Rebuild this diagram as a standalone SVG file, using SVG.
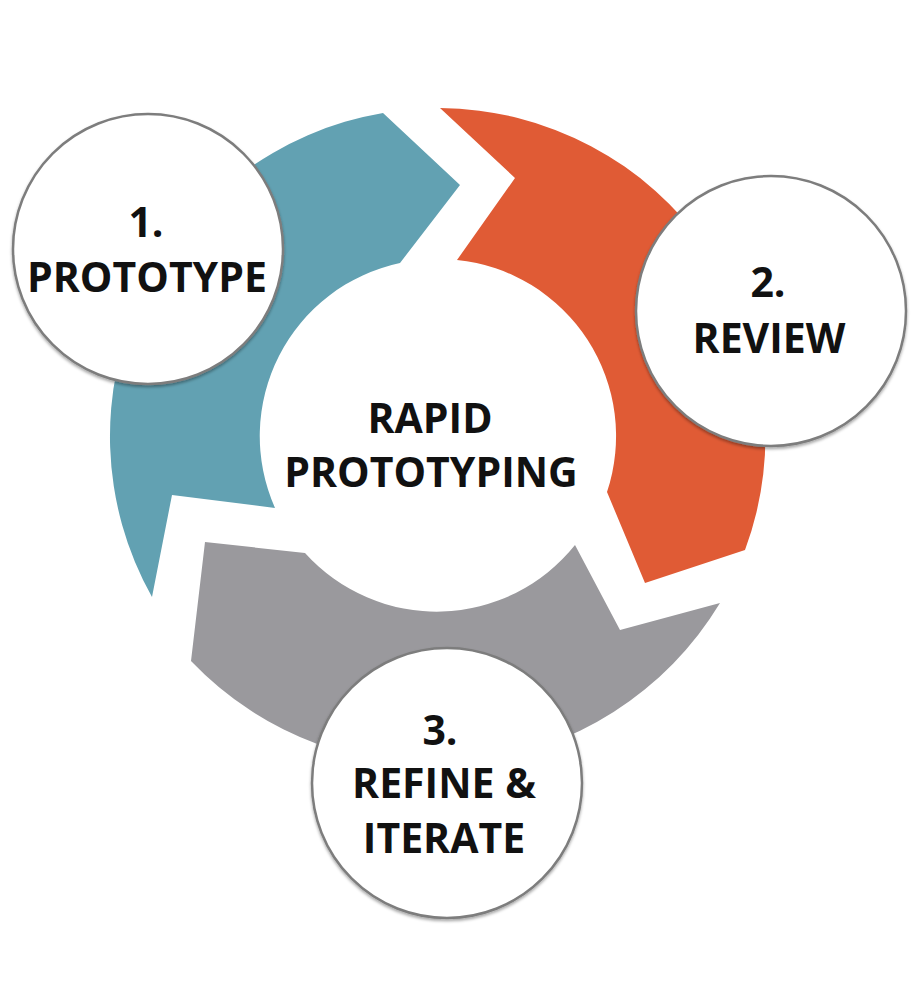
<svg xmlns="http://www.w3.org/2000/svg" width="922" height="986" viewBox="0 0 922 986">
<defs>
<style>
.lbl{font-family:"Open Sans","Liberation Sans",sans-serif;font-weight:700;font-size:41px;fill:#111;text-anchor:middle}
.node{fill:#fff;stroke:#7d7d7d;stroke-width:2.5}
</style>
<filter id="sh" x="-10%" y="-10%" width="120%" height="125%">
<feDropShadow dx="0" dy="2" stdDeviation="1.5" flood-color="#000" flood-opacity="0.35"/>
</filter>
</defs>
<rect width="922" height="986" fill="#fff"/>
<g id="connectors">
<path id="arc-teal" fill="#62a1b2" d="M152,597 L172,495 L275,508 A177,177 0 0 1 400,263 L460,185 L383,113 A328,328 0 0 0 152,597 Z"/>
<path id="arc-orange" fill="#e05b35" d="M440,108 A328,328 0 0 1 745,550 L645,583 L607,492 A177,177 0 0 0 457,260 L515,178 Z"/>
<path id="arc-gray" fill="#9a999d" d="M575,545 L620,630 L720,603 A335,335 0 0 1 191,661 L205,542 L305,553 A177,177 0 0 0 575,545 Z"/>
</g>
<g id="center">
<text class="lbl" x="430" y="433">RAPID</text>
<text class="lbl" x="431" y="487">PROTOTYPING</text>
</g>
<g id="node1">
<circle class="node" cx="148" cy="249" r="135" filter="url(#sh)"/>
<text class="lbl" x="146" y="237">1.</text>
<text class="lbl" x="147" y="292">PROTOTYPE</text>
</g>
<g id="node2">
<circle class="node" cx="771" cy="311" r="135" filter="url(#sh)"/>
<text class="lbl" x="768" y="297">2.</text>
<text class="lbl" x="769" y="353">REVIEW</text>
</g>
<g id="node3">
<circle class="node" cx="447" cy="783" r="135" filter="url(#sh)"/>
<text class="lbl" x="440" y="745">3.</text>
<text class="lbl" x="444" y="798">REFINE &amp;</text>
<text class="lbl" x="444" y="853">ITERATE</text>
</g>
</svg>
